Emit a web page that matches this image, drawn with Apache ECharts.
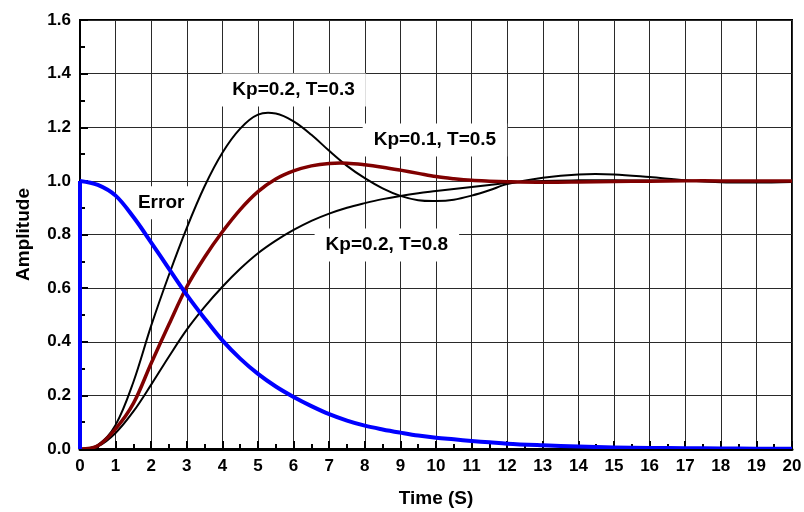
<!DOCTYPE html>
<html>
<head>
<meta charset="utf-8">
<script src="https://cdn.jsdelivr.net/npm/echarts@6/dist/echarts.min.js"></script>
<style>
  html, body { margin: 0; padding: 0; background: #fff; }
  #chart { width: 804px; height: 512px; }
</style>
</head>
<body>
<div id="chart"></div>
<script>
// Sample times (s)
var time = [0, 0.5, 1, 1.5, 2, 2.5, 3, 3.5, 4, 4.5, 5, 5.5, 6, 6.5, 7, 7.5, 8, 8.5, 9, 9.5,
            10, 10.5, 11, 11.5, 12, 13, 14, 15, 16, 17, 18, 19, 20];

// Step responses
var respKp02T03 = [0, 0.015, 0.09, 0.25, 0.46, 0.65, 0.825, 0.98, 1.105, 1.195, 1.247, 1.251, 1.222, 1.172, 1.112, 1.056, 1.01, 0.972, 0.944, 0.928,
                   0.925, 0.93, 0.945, 0.965, 0.988, 1.012, 1.024, 1.024, 1.014, 1.002, 0.995, 0.994, 0.996];
var respKp01T05 = [0, 0.012, 0.075, 0.17, 0.32, 0.465, 0.605, 0.715, 0.81, 0.893, 0.96, 1.007, 1.037, 1.056, 1.065, 1.066, 1.06, 1.051, 1.04, 1.028,
                   1.016, 1.008, 1.002, 0.999, 0.997, 0.995, 0.996, 0.998, 0.999, 1.0, 1.0, 1.0, 1.0];
var respKp02T08 = [0, 0.01, 0.06, 0.14, 0.24, 0.345, 0.445, 0.53, 0.605, 0.672, 0.73, 0.777, 0.817, 0.851, 0.878, 0.9, 0.917, 0.932, 0.944, 0.954,
                   0.962, 0.97, 0.977, 0.985, 0.992, 1.0, 1.002, 1.002, 1.001, 1.0, 1.0, 1.0, 1.0];
// Error signal after the unit jump at t = 0
var errorSignal = [1, 0.985, 0.945, 0.865, 0.77, 0.672, 0.575, 0.487, 0.405, 0.337, 0.28, 0.233, 0.194, 0.16, 0.13, 0.106, 0.087, 0.073, 0.061, 0.05,
                   0.042, 0.036, 0.03, 0.025, 0.02, 0.014, 0.009, 0.006, 0.004, 0.003, 0.002, 0.001, 0.001];
// The jump itself (vertical edge at t = 0)
var jumpTime = [0, 0];
var jumpValue = [0, 1];

// Curve annotations: text and anchor in data units
var noteText = ['Kp=0.2, T=0.3', 'Kp=0.1, T=0.5', 'Kp=0.2, T=0.8', 'Error'];
var noteTime = [6.0, 9.97, 8.62, 2.28];
var noteAmp  = [1.339, 1.152, 0.761, 0.918];

// Axis ticks
var yTicks = [0, 0.2, 0.4, 0.6, 0.8, 1.0, 1.2, 1.4, 1.6];
var xMax = 20;

function pairs(xs, ys) {
  return xs.map(function (x, i) { return [x, ys[i]]; });
}

var FONT = "'Liberation Sans', Arial, Helvetica, sans-serif";

var chart = echarts.init(document.getElementById('chart'), null, { renderer: 'canvas' });

var notes = noteText.map(function (t, i) { return [noteTime[i], noteAmp[i], t]; });

var blueStyle = { color: '#0000ff', width: 4 };

// A response curve drawn as one smooth spline through its samples,
// positioned with the cartesian axes (api.coord).
function curve(name, ys, z, color, width) {
  var pts = pairs(time, ys);
  return {
    name: name, type: 'custom', z: z, silent: true, clip: true,
    coordinateSystem: 'cartesian2d',
    data: pts,
    encode: { x: 0, y: 1 },
    renderItem: function (params, api) {
      if (params.dataIndex !== 0) return null;
      var coords = pts.map(function (p) { return api.coord(p); });
      return {
        type: 'polyline',
        shape: { points: coords, smooth: 0.35 },
        style: { stroke: color, lineWidth: width, fill: null, lineJoin: 'round', lineCap: 'round' }
      };
    }
  };
}

chart.setOption({
  animation: false,
  backgroundColor: '#fff',
  grid: {
    left: 80, right: 12, top: 20, bottom: 63,
    outerBoundsMode: 'none',
    containLabel: false,
    show: true, borderColor: '#000', borderWidth: 2, backgroundColor: 'transparent'
  },
  xAxis: {
    type: 'value',
    min: 0, max: xMax, interval: 1,
    name: 'Time (S)',
    nameLocation: 'middle',
    nameGap: 40,
    nameTextStyle: { fontFamily: FONT, fontWeight: 'bold', fontSize: 19, color: '#000' },
    axisLine: { show: true, onZero: false, lineStyle: { color: '#000', width: 3 } },
    axisTick: { show: true, inside: true, length: 8, lineStyle: { color: '#000', width: 2 } },
    minorTick: { show: true, splitNumber: 2, length: 5, lineStyle: { color: '#000', width: 2 } },
    axisLabel: { fontFamily: FONT, fontWeight: 'bold', fontSize: 17, color: '#000', margin: 9 },
    splitLine: { show: true, lineStyle: { color: '#2a2a2a', width: 1 } }
  },
  yAxis: {
    type: 'value',
    min: yTicks[0], max: yTicks[yTicks.length - 1], interval: 0.2,
    name: 'Amplitude',
    nameLocation: 'middle',
    nameGap: 47,
    nameRotate: 90,
    nameTextStyle: { fontFamily: FONT, fontWeight: 'bold', fontSize: 19, color: '#000' },
    axisLine: { show: true, onZero: false, lineStyle: { color: '#000', width: 2 } },
    axisTick: { show: true, inside: true, length: 8, lineStyle: { color: '#000', width: 2 } },
    minorTick: { show: true, splitNumber: 2, length: 5, lineStyle: { color: '#000', width: 2 } },
    axisLabel: {
      fontFamily: FONT, fontWeight: 'bold', fontSize: 17, color: '#000', margin: 9,
      formatter: function (v) { return v.toFixed(1); }
    },
    splitLine: { show: true, lineStyle: { color: '#2a2a2a', width: 1 } }
  },
  series: [
    {
      type: 'scatter',
      z: 1,
      silent: true,
      symbolSize: 0,
      itemStyle: { opacity: 1 },
      data: notes,
      label: {
        show: true,
        position: 'inside',
        formatter: function (p) { return p.data[2]; },
        fontFamily: FONT, fontWeight: 'bold', fontSize: 19, color: '#000',
        backgroundColor: '#fff',
        padding: [7, 11]
      }
    },
    curve('Kp=0.2, T=0.8', respKp02T08, 3, '#000', 2),
    curve('Kp=0.2, T=0.3', respKp02T03, 3, '#000', 2),
    curve('Kp=0.1, T=0.5', respKp01T05, 4, '#800000', 3.5),
    curve('Error', errorSignal, 5, '#0000ff', 4),
    {
      name: 'Error step', type: 'line', z: 5, showSymbol: false,
      data: pairs(jumpTime, jumpValue),
      lineStyle: blueStyle
    }
  ]
});
</script>
</body>
</html>
